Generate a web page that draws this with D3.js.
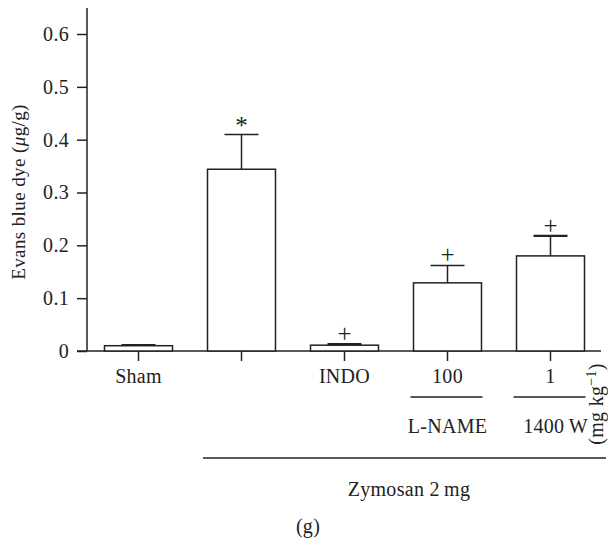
<!DOCTYPE html>
<html>
<head>
<meta charset="utf-8">
<script src="https://cdn.jsdelivr.net/npm/d3@7"></script>
<style>
  html, body { margin: 0; padding: 0; background: #fff; }
  svg { display: block; }
  text { font-family: "Liberation Serif", "DejaVu Serif", serif; fill: #222; letter-spacing: 0.3px; }
</style>
</head>
<body>
<svg id="chart" width="608" height="542"></svg>
<script>
// Evans blue dye extravasation per treatment group
const groups      = ["sham", "zymosan", "indo", "lname", "w1400"];
const tickLabels  = ["Sham", "", "INDO", "100", "1"];
const means       = [0.010, 0.344, 0.011, 0.129, 0.180];
const upperErr    = [0.011, 0.410, 0.013, 0.162, 0.218];
const markers     = ["", "*", "+", "+", "+"];
const yTicks      = [0, 0.1, 0.2, 0.3, 0.4, 0.5, 0.6];

const svg = d3.select("#chart");
const ink = "#222";
const fontFamily = "'Liberation Serif', serif";
const fontSize = "20px";

const x = d3.scaleBand()
  .domain(groups)
  .range([87, 602])
  .paddingInner(0.34)
  .paddingOuter(0.17);

const y = d3.scaleLinear().domain([0, 0.6]).range([351, 34]);

// y axis
const yAxis = svg.append("g")
  .attr("transform", "translate(87,0)")
  .call(d3.axisLeft(y).tickValues(yTicks)
    .tickFormat(d => d === 0 ? "0" : d3.format(".1f")(d))
    .tickSizeInner(10).tickSizeOuter(0).tickPadding(8));
yAxis.select(".domain").remove();
yAxis.selectAll(".tick line").attr("stroke", ink).attr("stroke-width", 1.5);
yAxis.selectAll(".tick text").style("font-size", fontSize).attr("fill", ink)
  .style("font-family", fontFamily);
svg.append("line").attr("x1", 87).attr("x2", 87).attr("y1", 8).attr("y2", y(0))
  .attr("stroke", ink).attr("stroke-width", 1.5);

// x axis
const xAxis = svg.append("g")
  .attr("transform", `translate(0,${y(0)})`)
  .call(d3.axisBottom(x).tickFormat((d, i) => tickLabels[i])
    .tickSizeInner(10).tickSizeOuter(0).tickPadding(8));
xAxis.select(".domain").remove();
xAxis.selectAll(".tick line").attr("stroke", ink).attr("stroke-width", 1.5);
xAxis.selectAll(".tick text").style("font-size", fontSize).attr("fill", ink)
  .style("font-family", fontFamily);
svg.append("line").attr("x1", 77).attr("x2", 601).attr("y1", y(0)).attr("y2", y(0))
  .attr("stroke", ink).attr("stroke-width", 1.5);

// error bars (upper only)
const eb = svg.append("g");
groups.forEach((g, i) => {
  const cx = x(g) + x.bandwidth() / 2;
  eb.append("line").attr("x1", cx).attr("x2", cx)
    .attr("y1", y(means[i])).attr("y2", y(upperErr[i]))
    .attr("stroke", ink).attr("stroke-width", 1.5);
  eb.append("line").attr("x1", cx - x.bandwidth() / 4).attr("x2", cx + x.bandwidth() / 4)
    .attr("y1", y(upperErr[i])).attr("y2", y(upperErr[i]))
    .attr("stroke", ink).attr("stroke-width", (i === 0 || i === 2 || i === 4) ? 2.2 : 1.5);
});

// bars
svg.append("g").selectAll("rect")
  .data(groups)
  .join("rect")
  .attr("x", d => x(d))
  .attr("width", x.bandwidth())
  .attr("y", (d, i) => y(means[i]))
  .attr("height", (d, i) => y(0) - y(means[i]))
  .attr("fill", "#fff")
  .attr("stroke", ink)
  .attr("stroke-width", 1.5);

// significance markers
svg.append("g").selectAll("text")
  .data(groups)
  .join("text")
  .attr("x", d => x(d) + x.bandwidth() / 2)
  .attr("y", (d, i) => y(upperErr[i]) - (markers[i] === "*" ? 0 : 2))
  .attr("text-anchor", "middle")
  .attr("fill", ink)
  .style("letter-spacing", "0px")
  .style("font-family", fontFamily)
  .style("font-size", (d, i) => markers[i] === "*" ? "25px" : "25px")
  .text((d, i) => markers[i]);

// y axis title
svg.append("text")
  .attr("transform", "translate(25,192) rotate(-90)")
  .attr("text-anchor", "middle")
  .style("font-size", "19px")
  .style("letter-spacing", "0.4px")
  .html('Evans blue dye (<tspan font-style="italic">μ</tspan>g/g)');

// dose underlines and drug names
const doseGroups = ["lname", "w1400"];
const drugNames  = ["L-NAME", "1400\u2009W"];
doseGroups.forEach((g, i) => {
  svg.append("line")
    .attr("x1", x(g) - 3).attr("x2", x(g) + x.bandwidth() + 1)
    .attr("y1", 397).attr("y2", 397)
    .attr("stroke", ink).attr("stroke-width", 1.3);
  svg.append("text")
    .attr("x", x(g) + x.bandwidth() / 2 + (i === 1 ? 5 : 0))
    .attr("y", 433)
    .attr("text-anchor", "middle")
    .style("font-size", fontSize)
    .text(drugNames[i]);
});

// dose unit
svg.append("text")
  .attr("transform", "translate(603,404) rotate(-90)")
  .attr("text-anchor", "middle")
  .style("font-size", fontSize)
  .html('(mg kg<tspan dy="-7" font-size="14px">\u22121</tspan><tspan dy="7">)</tspan>');

// zymosan bracket line
svg.append("line")
  .attr("x1", 203).attr("x2", 606).attr("y1", 458).attr("y2", 458)
  .attr("stroke", ink).attr("stroke-width", 1.5);
svg.append("text")
  .attr("x", 409).attr("y", 496)
  .attr("text-anchor", "middle")
  .style("font-size", fontSize)
  .text("Zymosan 2\u2009mg");

// panel letter
svg.append("text")
  .attr("x", 308).attr("y", 533)
  .attr("text-anchor", "middle")
  .style("font-size", fontSize)
  .text("(g)");
</script>
</body>
</html>
